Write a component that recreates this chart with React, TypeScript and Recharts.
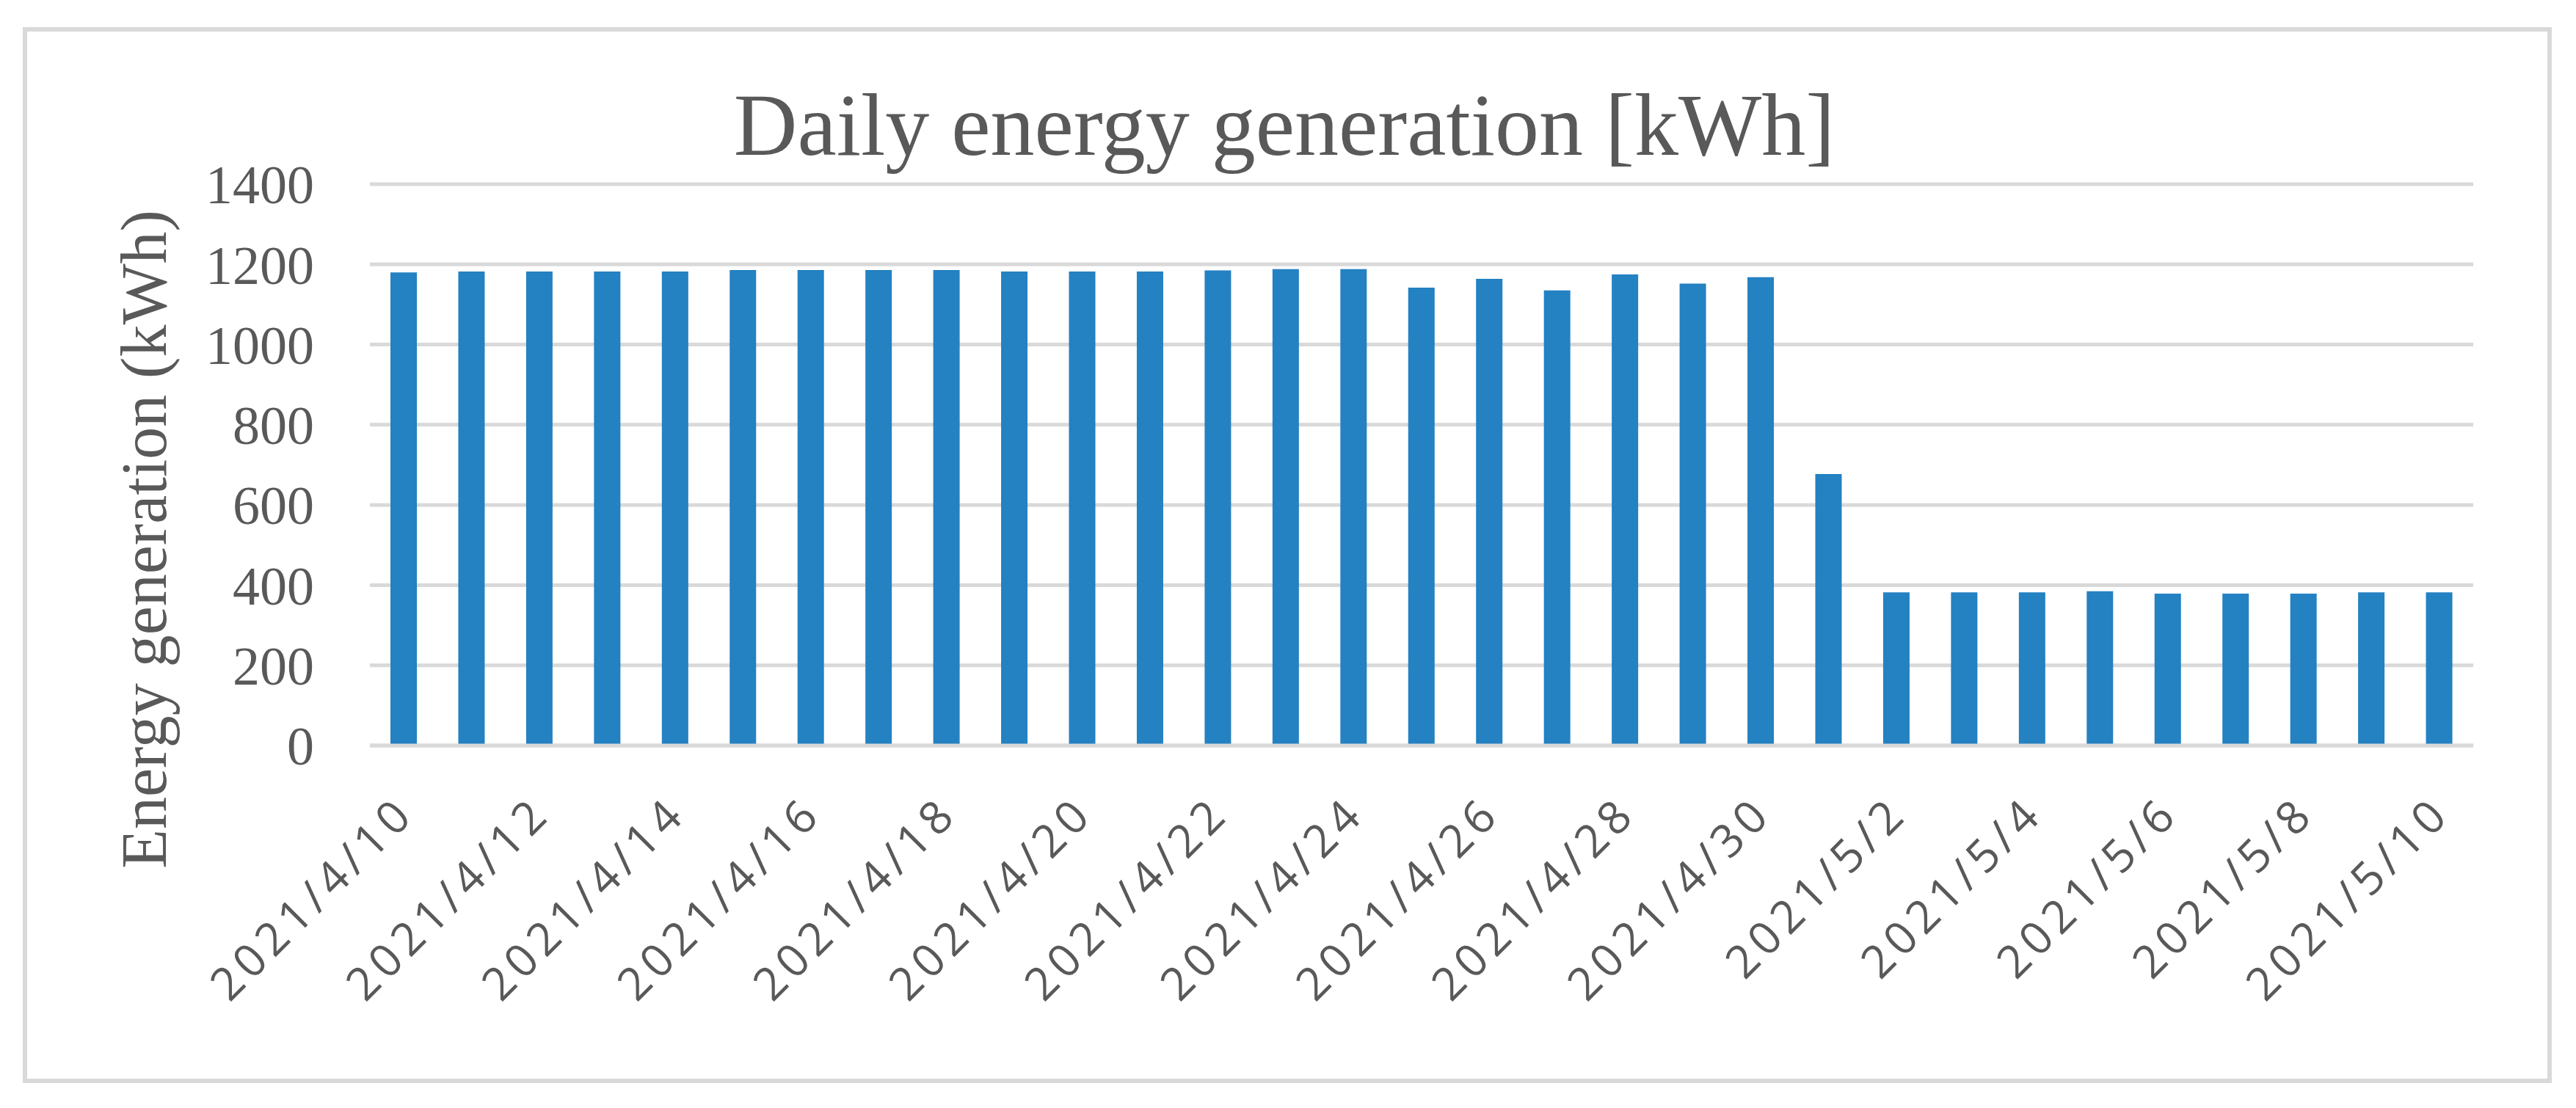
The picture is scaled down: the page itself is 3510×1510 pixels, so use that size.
import { BarChart, Bar, XAxis, YAxis, CartesianGrid } from "recharts";

// daily values
const dates = [
  "2021/4/10", "2021/4/11", "2021/4/12", "2021/4/13", "2021/4/14", "2021/4/15",
  "2021/4/16", "2021/4/17", "2021/4/18", "2021/4/19", "2021/4/20", "2021/4/21",
  "2021/4/22", "2021/4/23", "2021/4/24", "2021/4/25", "2021/4/26", "2021/4/27",
  "2021/4/28", "2021/4/29", "2021/4/30", "2021/5/1", "2021/5/2", "2021/5/3",
  "2021/5/4", "2021/5/5", "2021/5/6", "2021/5/7", "2021/5/8", "2021/5/9", "2021/5/10",
];
const energyKWh = [
  1180, 1182, 1182, 1182, 1182, 1186, 1186, 1186, 1186, 1182, 1182, 1182,
  1185, 1188, 1188, 1142, 1164, 1135, 1175, 1152, 1168, 677, 382, 382,
  382, 385, 379, 379, 379, 382, 382,
];
const yTicks = [0, 200, 400, 600, 800, 1000, 1200, 1400];

const data = dates.map((d, i) => ({ date: d, energy: energyKWh[i] }));

const TEXT = "#595959";
const GRID = "#d9d9d9";
const BAR = "#2481c2";

const XTick = (props: any) => {
  const { x, y, payload } = props;
  return (
    <g transform={`translate(${x + 18},${y + 96})`}>
      <text
        textAnchor="end"
        transform="rotate(-45)"
        fill={TEXT}
        fontSize={62}
        fontFamily="'Open Sans', sans-serif"
        letterSpacing={7.5}
      >
        {payload.value}
      </text>
    </g>
  );
};

const YLabel = () => (
  <text
    x={226}
    y={735}
    transform="rotate(-90, 226, 735)"
    textAnchor="middle"
    fill={TEXT}
    fontSize={88}
    fontFamily="'Liberation Serif', serif"
  >
    Energy generation (kWh)
  </text>
);

export default function App() {
  return (
    <div style={{ position: "absolute", left: 0, top: 0, width: 3510, height: 1510, background: "#fff" }}>
      <div
        style={{
          position: "absolute",
          left: 31,
          top: 37,
          width: 3434,
          height: 1427,
          border: `6px solid ${GRID}`,
        }}
      />
      <div
        style={{
          position: "absolute",
          left: 0,
          width: 3500,
          top: 111,
          textAlign: "center",
          fontFamily: "'Liberation Serif', serif",
          fontSize: 120,
          lineHeight: "120px",
          color: TEXT,
          whiteSpace: "nowrap",
        }}
      >
        Daily energy generation [kWh]
      </div>
      <div style={{ position: "absolute", left: 0, top: 0 }}>
        <BarChart
          width={3510}
          height={1510}
          data={data}
          margin={{ top: 251, right: 140, bottom: 0, left: 0 }}
          barSize={36}
        >
          <CartesianGrid vertical={false} stroke={GRID} strokeWidth={5} />
          <XAxis
            dataKey="date"
            interval={1}
            tick={<XTick />}
            tickLine={false}
            tickSize={0}
            tickMargin={0}
            axisLine={{ stroke: GRID, strokeWidth: 5 }}
            height={494}
          />
          <YAxis
            domain={[0, 1400]}
            ticks={yTicks}
            width={504}
            axisLine={false}
            tickLine={false}
            tickSize={0}
            tickMargin={76}
            tick={{ fill: TEXT, fontSize: 74, fontFamily: "'Liberation Serif', serif" }}
            label={<YLabel />}
          />
          <Bar dataKey="energy" fill={BAR} isAnimationActive={false} />
        </BarChart>
      </div>
    </div>
  );
}
